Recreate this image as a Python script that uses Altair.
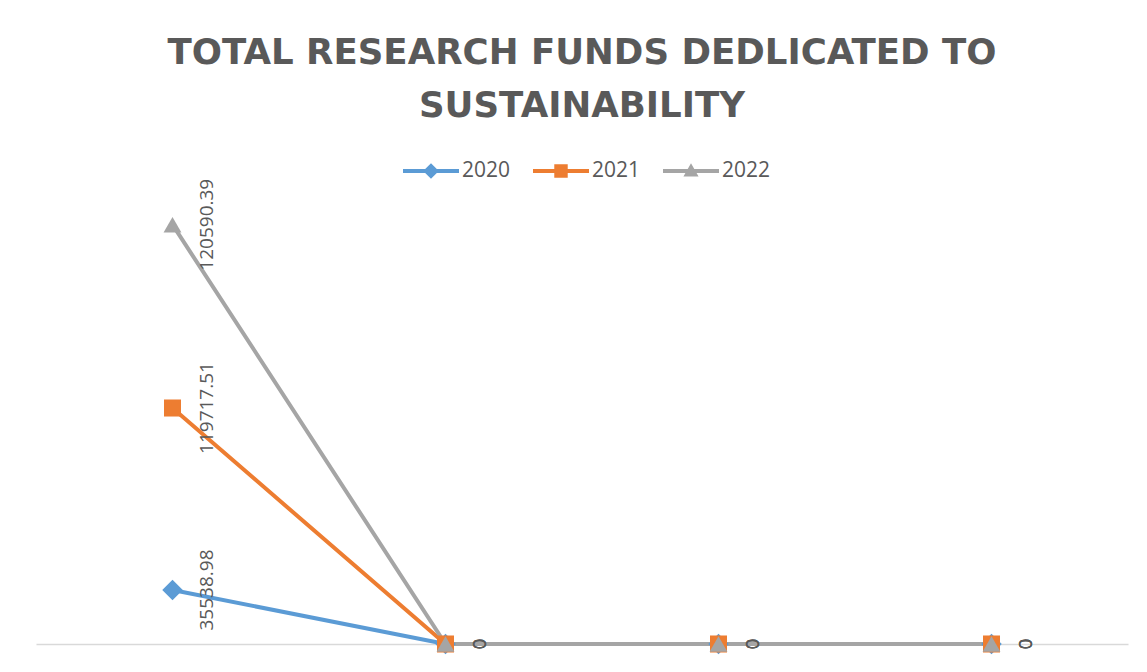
import altair as alt
import pandas as pd

categories = ["1", "2", "3", "4"]
series = ["2020", "2021", "2022"]
values_2020 = [35538.98, 0, 0, 0]
values_2021 = [119717.51, 0, 0, 0]
values_2022 = [120590.39, 0, 0, 0]
colors = ["#5B9BD5", "#ED7D31", "#A5A5A5"]
markers = ["diamond", "square", "triangle-up"]
marker_sizes = [420, 290, 320]
title_lines = ["TOTAL RESEARCH FUNDS DEDLICATED TO", "SUSTAINABILITY"]

# legend symbols: a short line with the series marker on it
legend_paths = [
    "M-1,-0.07H1V0.07H-1Z M0,-0.28L0.28,0L0,0.28L-0.28,0Z",
    "M-1,-0.07H1V0.07H-1Z M-0.24,-0.24H0.24V0.24H-0.24Z",
    "M-1,-0.07H1V0.07H-1Z M0,-0.28L0.27,0.2L-0.27,0.2Z",
]

rows = []
for s_i, (s, vals) in enumerate(zip(series, [values_2020, values_2021, values_2022])):
    for c_i, (c, v) in enumerate(zip(categories, vals)):
        rows.append({"series": s, "cat": c, "value": v, "sorder": s_i})
df = pd.DataFrame(rows)

base = alt.Chart(df).transform_stack(
    stack="value", groupby=["cat"], as_=["y0", "y1"],
    sort=[alt.SortField("sorder", order="ascending")],
)

x = alt.X("cat:N", sort=categories, scale=alt.Scale(padding=0.5),
          axis=alt.Axis(labels=False, ticks=False, title=None, grid=False,
                        domainColor="#D9D9D9", domainWidth=1.5))
y = alt.Y("y1:Q", scale=alt.Scale(domain=[0, 300000], nice=False, zero=True), axis=None)
color_scale = alt.Scale(domain=series, range=colors)

leg = alt.Legend(
    title=None, orient="none", legendX=367, legendY=-45, direction="horizontal",
    symbolSize=3136, symbolStrokeWidth=0, symbolOpacity=1,
    labelFontSize=21, labelFont="Open Sans", labelColor="#595959",
    labelOffset=3, columnPadding=22, padding=0,
)
legend_layer = base.mark_point(filled=True, opacity=0).encode(
    x=x, y=y,
    color=alt.Color("series:N", scale=color_scale, legend=leg),
    shape=alt.Shape("series:N", scale=alt.Scale(domain=series, range=legend_paths), legend=leg),
)

lines = base.mark_line(strokeWidth=4).encode(
    x=x, y=y,
    color=alt.Color("series:N", scale=color_scale),
)

point_layers = []
for s, m, sz in zip(series, markers, marker_sizes):
    point_layers.append(
        base.transform_filter(alt.datum.series == s).mark_point(
            filled=True, shape=m, size=sz, opacity=1
        ).encode(x=x, y=y, color=alt.Color("series:N", scale=color_scale))
    )

labels = base.mark_text(
    angle=270, align="center", baseline="middle", dy=34,
    fontSize=19, font="Open Sans", color="#595959",
).encode(x=x, y=y, text="value:N")

chart = alt.layer(legend_layer, lines, *point_layers, labels).properties(
    width=1092, height=456,
    padding={"left": 28, "top": 180, "right": 11, "bottom": 16},
    autosize=alt.AutoSizeParams(type="none"),
    background="white",
    title=alt.TitleParams(
        text=title_lines, fontSize=35.6, font="DejaVu Sans", fontWeight="bold",
        color="#595959", anchor="middle", lineHeight=53, offset=18,
    ),
).configure_view(stroke=None)

chart.save("out.html", embed_options={"renderer": "svg", "actions": False})
